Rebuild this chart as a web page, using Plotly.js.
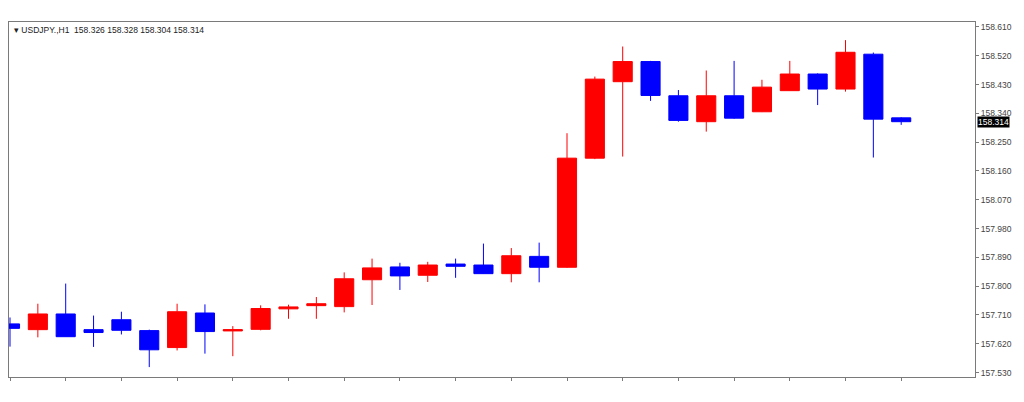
<!DOCTYPE html>
<html>
<head>
<meta charset="utf-8">
<script src="https://cdn.plot.ly/plotly-3.0.1.min.js"></script>
<style>
  html, body { margin: 0; padding: 0; background: #fff; }
  #chart { width: 1024px; height: 402px; }
</style>
</head>
<body>
<div id="chart"></div>
<script>
// USDJPY H1 bars (oldest first)
const symbol = "USDJPY.,H1";
const opens  = [157.682, 157.664, 157.713, 157.664, 157.695, 157.661, 157.608, 157.716, 157.660, 157.665,
                157.729, 157.739, 157.736, 157.820, 157.860, 157.834, 157.869, 157.866, 157.839, 157.893,
                157.859, 158.200, 158.439, 158.502, 158.395, 158.314, 158.395, 158.345, 158.411, 158.463,
                158.416, 158.525, 158.326];
const highs  = [157.702, 157.745, 157.808, 157.708, 157.720, 157.664, 157.745, 157.743, 157.675, 157.740,
                157.742, 157.766, 157.843, 157.886, 157.873, 157.876, 157.886, 157.933, 157.919, 157.936,
                158.278, 158.455, 158.549, 158.504, 158.413, 158.474, 158.504, 158.445, 158.504, 158.465,
                158.569, 158.530, 158.328];
const lows   = [157.611, 157.640, 157.642, 157.610, 157.649, 157.547, 157.599, 157.589, 157.581, 157.662,
                157.698, 157.698, 157.718, 157.741, 157.788, 157.813, 157.826, 157.838, 157.812, 157.812,
                157.857, 158.197, 158.205, 158.379, 158.314, 158.283, 158.323, 158.344, 158.410, 158.366,
                158.408, 158.202, 158.304];
const closes = [157.668, 157.713, 157.642, 157.655, 157.662, 157.601, 157.720, 157.658, 157.664, 157.730,
                157.735, 157.745, 157.823, 157.857, 157.832, 157.866, 157.862, 157.839, 157.895, 157.859,
                158.200, 158.447, 158.502, 158.396, 158.318, 158.395, 158.325, 158.422, 158.463, 158.416,
                158.531, 158.322, 158.314];
const priceTicks = [157.53, 157.62, 157.71, 157.80, 157.89, 157.98, 158.07, 158.16, 158.25, 158.34, 158.43, 158.52, 158.61];

const bars = opens.map((_, i) => i);
const last = bars.length - 1;

const trace = {
  type: "candlestick",
  x: bars,
  open: opens,
  high: highs,
  low: lows,
  close: closes,
  whiskerwidth: 0,
  increasing: { line: { color: "#ff0000", width: 1 }, fillcolor: "#ff0000" },
  decreasing: { line: { color: "#0000ff", width: 1 }, fillcolor: "#0000ff" },
  hoverinfo: "skip"
};

const frame = "#7a7a7a";

const layout = {
  width: 1024,
  height: 402,
  margin: { l: 9, r: 49, t: 22, b: 25 },
  paper_bgcolor: "#ffffff",
  plot_bgcolor: "#ffffff",
  showlegend: false,
  boxgap: 0.02,
  font: { family: "Liberation Sans, Arial, sans-serif", size: 9, color: "#333" },
  xaxis: {
    range: [-0.036, 34.65],
    rangeslider: { visible: false },
    showgrid: false,
    zeroline: false,
    showline: true,
    mirror: true,
    linecolor: frame,
    linewidth: 1,
    ticks: "outside",
    ticklen: 3,
    tickcolor: frame,
    tickvals: bars.filter(i => i % 2 === 0),
    showticklabels: false,
    fixedrange: true
  },
  yaxis: {
    side: "right",
    range: [157.516, 158.6256],
    showgrid: false,
    zeroline: false,
    showline: true,
    mirror: true,
    linecolor: frame,
    linewidth: 1,
    ticks: "outside",
    ticklen: 3,
    tickcolor: frame,
    tickvals: priceTicks,
    tickformat: ".3f",
    tickfont: { size: 8.5, color: "#444" },
    fixedrange: true
  },
  annotations: [
    // header: symbol + OHLC of the last bar
    {
      xref: "paper", yref: "paper", x: 0, y: 1,
      xanchor: "left", yanchor: "top", xshift: 3, yshift: -1,
      showarrow: false,
      text: "▾ " + symbol + "  " + [opens[last], highs[last], lows[last], closes[last]].map(v => v.toFixed(3)).join(" "),
      font: { size: 8.5, color: "#222" }
    },
    // last price box on the price scale
    {
      xref: "paper", yref: "y", x: 1, y: closes[last],
      xanchor: "left", yanchor: "middle", xshift: 2,
      showarrow: false,
      text: closes[last].toFixed(3),
      bgcolor: "#000000",
      borderpad: 0,
      font: { size: 8.5, color: "#ffffff" }
    }
  ]
};

Plotly.newPlot("chart", [trace], layout, { displayModeBar: false, staticPlot: true });
</script>
</body>
</html>
